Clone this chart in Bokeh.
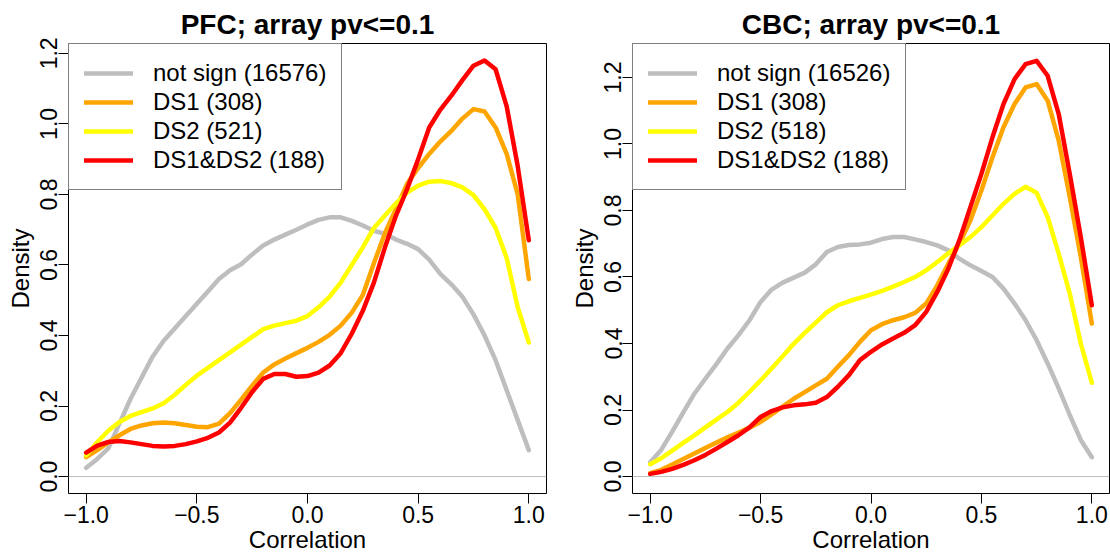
from bokeh.plotting import figure
from bokeh.models import FixedTicker, Span, Legend, LegendItem
from bokeh.layouts import row
from bokeh.embed import file_html
from bokeh.resources import INLINE

# Correlation grid on which the densities are evaluated
corr = [-1.0, -0.95, -0.9, -0.85, -0.8, -0.75, -0.7, -0.65, -0.6, -0.55,
        -0.5, -0.45, -0.4, -0.35, -0.3, -0.25, -0.2, -0.15, -0.1, -0.05,
        0.0, 0.05, 0.1, 0.15, 0.2, 0.25, 0.3, 0.35, 0.4, 0.45,
        0.5, 0.55, 0.6, 0.65, 0.7, 0.75, 0.8, 0.85, 0.9, 0.95, 1.0]

# PFC densities
pfc_not_sign = [0.025, 0.05, 0.08, 0.15, 0.22, 0.28, 0.34, 0.385, 0.42, 0.455,
                0.49, 0.525, 0.56, 0.585, 0.602, 0.63, 0.655, 0.672, 0.686, 0.70,
                0.715, 0.728, 0.735, 0.735, 0.725, 0.712, 0.697, 0.688, 0.672, 0.66,
                0.645, 0.615, 0.575, 0.545, 0.51, 0.46, 0.40, 0.33, 0.245, 0.16, 0.075]
pfc_ds1 = [0.055, 0.075, 0.097, 0.117, 0.135, 0.145, 0.151, 0.153, 0.151, 0.146,
           0.141, 0.140, 0.150, 0.180, 0.218, 0.258, 0.295, 0.318, 0.335, 0.350,
           0.365, 0.382, 0.402, 0.428, 0.465, 0.515, 0.605, 0.69, 0.76, 0.83,
           0.875, 0.915, 0.95, 0.98, 1.015, 1.042, 1.035, 0.99, 0.915, 0.80, 0.56]
pfc_ds2 = [0.06, 0.098, 0.13, 0.155, 0.172, 0.183, 0.193, 0.208, 0.232, 0.26,
           0.286, 0.308, 0.33, 0.352, 0.374, 0.396, 0.418, 0.428, 0.435, 0.442,
           0.455, 0.48, 0.51, 0.55, 0.60, 0.65, 0.705, 0.74, 0.775, 0.805,
           0.825, 0.836, 0.838, 0.832, 0.82, 0.798, 0.758, 0.705, 0.62, 0.48, 0.38]
pfc_ds12 = [0.068, 0.088, 0.098, 0.101, 0.097, 0.092, 0.087, 0.085, 0.087, 0.092,
            0.100, 0.110, 0.125, 0.153, 0.195, 0.24, 0.277, 0.291, 0.291, 0.283,
            0.285, 0.295, 0.315, 0.35, 0.405, 0.47, 0.55, 0.65, 0.74, 0.815,
            0.90, 0.99, 1.04, 1.08, 1.124, 1.165, 1.18, 1.155, 1.05, 0.88, 0.67]

# CBC densities
cbc_not_sign = [0.043, 0.08, 0.135, 0.193, 0.249, 0.294, 0.338, 0.385, 0.425, 0.47,
                0.525, 0.562, 0.583, 0.598, 0.613, 0.638, 0.675, 0.69, 0.696, 0.698,
                0.703, 0.714, 0.72, 0.72, 0.713, 0.705, 0.695, 0.68, 0.655, 0.635,
                0.618, 0.60, 0.565, 0.52, 0.47, 0.41, 0.34, 0.265, 0.185, 0.11, 0.058]
cbc_ds1 = [0.01, 0.02, 0.036, 0.053, 0.069, 0.086, 0.102, 0.118, 0.132, 0.147,
           0.164, 0.187, 0.21, 0.234, 0.254, 0.274, 0.294, 0.33, 0.365, 0.405,
           0.44, 0.458, 0.47, 0.479, 0.492, 0.52, 0.575, 0.64, 0.70, 0.77,
           0.86, 0.96, 1.05, 1.12, 1.17, 1.18, 1.13, 1.01, 0.84, 0.66, 0.46]
cbc_ds2 = [0.037, 0.055, 0.078, 0.101, 0.124, 0.148, 0.171, 0.194, 0.222, 0.255,
           0.289, 0.325, 0.362, 0.399, 0.432, 0.463, 0.494, 0.515, 0.527, 0.537,
           0.547, 0.558, 0.571, 0.585, 0.60, 0.62, 0.645, 0.671, 0.695, 0.72,
           0.75, 0.785, 0.82, 0.85, 0.871, 0.853, 0.78, 0.67, 0.55, 0.40, 0.282]
cbc_ds12 = [0.008, 0.014, 0.023, 0.035, 0.049, 0.065, 0.084, 0.104, 0.124, 0.148,
            0.179, 0.197, 0.208, 0.214, 0.217, 0.222, 0.239, 0.27, 0.305, 0.35,
            0.375, 0.397, 0.415, 0.432, 0.455, 0.495, 0.555, 0.625, 0.71, 0.81,
            0.91, 1.02, 1.12, 1.195, 1.24, 1.25, 1.205, 1.09, 0.91, 0.72, 0.515]

pfc_labels = ["not sign (16576)", "DS1 (308)", "DS2 (521)", "DS1&DS2 (188)"]
cbc_labels = ["not sign (16526)", "DS1 (308)", "DS2 (518)", "DS1&DS2 (188)"]
colors = ["#BEBEBE", "#FFA500", "#FFFF00", "#FF0000"]

x_ticks = [-1.0, -0.5, 0.0, 0.5, 1.0]
x_tick_labels = ["\u22121.0", "\u22120.5", "0.0", "0.5", "1.0"]
y_ticks = [0.0, 0.2, 0.4, 0.6, 0.8, 1.0, 1.2]
y_tick_labels = ["0.0", "0.2", "0.4", "0.6", "0.8", "1.0", "1.2"]

FONT = "Liberation Sans"


def density_panel(title, curves, labels, y_range, left, right, frame_w):
    p = figure(frame_width=frame_w, frame_height=450,
               x_range=(-1.08, 1.08), y_range=y_range,
               min_border_left=left, min_border_right=right,
               min_border_top=43, min_border_bottom=63,
               output_backend="svg", toolbar_location=None, title=title)
    p.title.text_font = FONT
    p.title.text_font_size = "28px"
    p.title.text_font_style = "bold"
    p.title.align = "center"
    p.title.standoff = 8
    p.title.text_color = "black"

    p.grid.visible = False
    p.outline_line_color = "black"
    p.outline_line_width = 1
    p.outline_line_alpha = 1

    p.add_layout(Span(location=0, dimension="width", line_color="#BEBEBE", line_width=1))

    renderers = []
    for ys, c in zip(curves, colors):
        r = p.line(corr, ys, line_color=c, line_width=4.5,
                   line_cap="round", line_join="round")
        renderers.append(r)

    for ax in (p.xaxis[0], p.yaxis[0]):
        ax.axis_line_color = None
        ax.major_tick_line_color = "black"
        ax.major_tick_out = 10
        ax.major_tick_in = 0
        ax.minor_tick_line_color = None
        ax.major_label_text_font = FONT
        ax.major_label_text_font_size = "23px"
        ax.major_label_text_color = "black"
        ax.axis_label_text_font = FONT
        ax.axis_label_text_font_size = "24px"
        ax.axis_label_text_font_style = "normal"
        ax.axis_label_text_color = "black"

    p.xaxis.ticker = FixedTicker(ticks=x_ticks)
    p.xaxis.major_label_overrides = dict(zip(x_ticks, x_tick_labels))
    p.xaxis.axis_label = "Correlation"
    p.xaxis.major_label_standoff = 2
    p.xaxis.axis_label_standoff = 0

    p.yaxis.ticker = FixedTicker(ticks=y_ticks)
    p.yaxis.major_label_overrides = dict(zip(y_ticks, y_tick_labels))
    p.yaxis.major_label_orientation = "vertical"
    p.yaxis.axis_label = "Density"
    p.yaxis.major_label_standoff = 1
    p.yaxis.axis_label_standoff = 4

    items = [LegendItem(label=l, renderers=[r]) for l, r in zip(labels, renderers)]
    legend = Legend(items=items, location="top_left", margin=0, padding=15,
                    glyph_width=49, glyph_height=28, label_height=28,
                    label_standoff=20, spacing=1,
                    label_text_font=FONT, label_text_font_size="24px",
                    label_text_color="black",
                    border_line_color="black", border_line_width=1,
                    background_fill_color="white", background_fill_alpha=1)
    p.add_layout(legend, "center")
    return p


p1 = density_panel("PFC; array pv<=0.1",
                   [pfc_not_sign, pfc_ds1, pfc_ds2, pfc_ds12], pfc_labels,
                   (-0.048, 1.228), 68, 18, 478)
p2 = density_panel("CBC; array pv<=0.1",
                   [cbc_not_sign, cbc_ds1, cbc_ds2, cbc_ds12], cbc_labels,
                   (-0.051, 1.302), 68, 1, 477)

layout = row(p1, p2, spacing=0)
open("out.html", "w").write(file_html(layout, INLINE))
